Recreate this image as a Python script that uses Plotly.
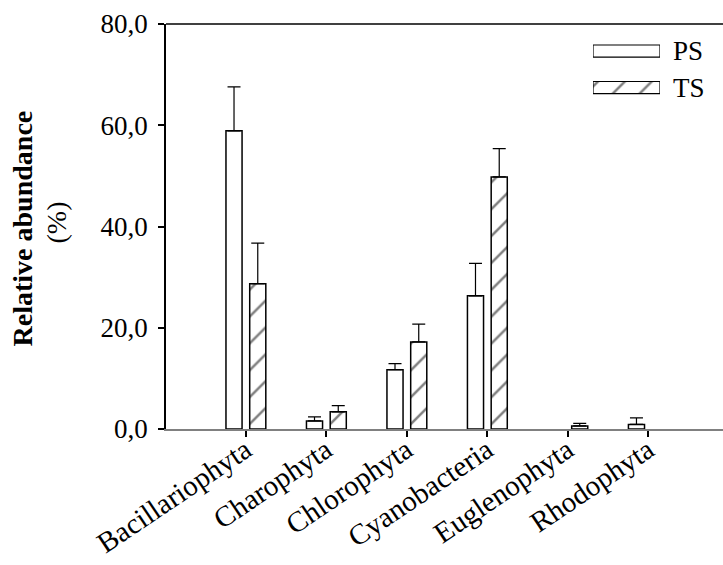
import plotly.graph_objects as go

categories = ["Bacillariophyta", "Charophyta", "Chlorophyta", "Cyanobacteria", "Euglenophyta", "Rhodophyta"]
ps_values = [58.9, 1.6, 11.7, 26.3, None, 0.9]
ps_errors = [8.7, 0.8, 1.2, 6.4, None, 1.3]
ts_values = [28.7, 3.4, 17.2, 49.8, 0.6, None]
ts_errors = [8.0, 1.2, 3.5, 5.6, 0.5, None]
y_ticks = [0, 20, 40, 60, 80]
legend_labels = ["PS", "TS"]

FONT = "Liberation Serif, Times New Roman, serif"
LINE = dict(color="black", width=1.5)
HATCH = dict(shape="/", fgcolor="black", bgcolor="white", size=19, solidity=0.13)

fig = go.Figure()
fig.add_trace(go.Bar(
    name="PS", x=categories, y=ps_values, offset=-0.245, width=0.2, showlegend=False,
    marker=dict(color="white", line=LINE),
    error_y=dict(type="data", symmetric=False, array=ps_errors,
                 arrayminus=[0] * len(ps_errors), color="black", thickness=1.2, width=6.5),
))
fig.add_trace(go.Bar(
    name="TS", x=categories, y=ts_values, offset=0.05, width=0.2, showlegend=False,
    marker=dict(color="white", line=LINE, pattern=HATCH),
    error_y=dict(type="data", symmetric=False, array=ts_errors,
                 arrayminus=[0] * len(ts_errors), color="black", thickness=1.2, width=6.5),
))

# legend swatches drawn on a small hidden axis pair
fig.add_trace(go.Bar(
    name="PS", y=[legend_labels[0]], x=[1], orientation="h", width=0.33, showlegend=False,
    xaxis="x2", yaxis="y2", hoverinfo="skip",
    marker=dict(color="white", line=dict(color="black", width=1.2)),
))
fig.add_trace(go.Bar(
    name="TS", y=[legend_labels[1]], x=[1], orientation="h", width=0.33, showlegend=False,
    xaxis="x2", yaxis="y2", hoverinfo="skip",
    marker=dict(color="white", line=dict(color="black", width=1.2), pattern=HATCH),
))

fig.update_layout(
    width=723, height=565,
    margin=dict(l=166, r=0, t=24, b=136),
    plot_bgcolor="white", paper_bgcolor="white",
    separators=",.",
    font=dict(family=FONT, size=27, color="black"),
    barmode="overlay",
    showlegend=False,
    xaxis=dict(range=[-0.99, 5.93], showline=True, linecolor="#808080", linewidth=1.5,
               ticks="outside", ticklen=6, tickcolor="black", tickwidth=1.5,
               tickangle=-34, showgrid=False, zeroline=False, automargin=False,
               tickfont=dict(family=FONT, size=29), ticklabelstandoff=-15),
    yaxis=dict(range=[0, 80], tickvals=y_ticks, tickformat=".1f",
               showline=True, linecolor="black", linewidth=1.5,
               ticks="outside", ticklen=6, tickcolor="black", tickwidth=1.5,
               showgrid=False, zeroline=False, automargin=False,
               tickfont=dict(family=FONT, size=27), ticklabelstandoff=5),
    xaxis2=dict(domain=[(593 - 166) / 557, (660 - 166) / 557], range=[0, 1], anchor="y2",
                visible=False, fixedrange=True),
    yaxis2=dict(domain=[0.7981, 0.9784], range=[-0.5, 1.5], anchor="x2", side="right",
                categoryorder="array", categoryarray=legend_labels[::-1],
                showline=False, ticks="", showgrid=False, zeroline=False, automargin=False,
                tickfont=dict(family=FONT, size=27), ticklabelstandoff=12, fixedrange=True),
    shapes=[dict(type="line", xref="paper", yref="paper", x0=0, x1=1, y0=1, y1=1,
                 line=dict(color="black", width=1.5))],
    annotations=[
        dict(text="<b>Relative abundance</b>", textangle=-90, xref="paper", yref="paper",
             x=(22.5 - 166) / 557, y=0.494, xanchor="center", yanchor="middle",
             showarrow=False, font=dict(family=FONT, size=28, color="black")),
        dict(text="(%)", textangle=-90, xref="paper", yref="paper",
             x=(56 - 166) / 557, y=0.51, xanchor="center", yanchor="middle",
             showarrow=False, font=dict(family=FONT, size=28, color="black")),
    ],
)

fig.write_html("out.html")
